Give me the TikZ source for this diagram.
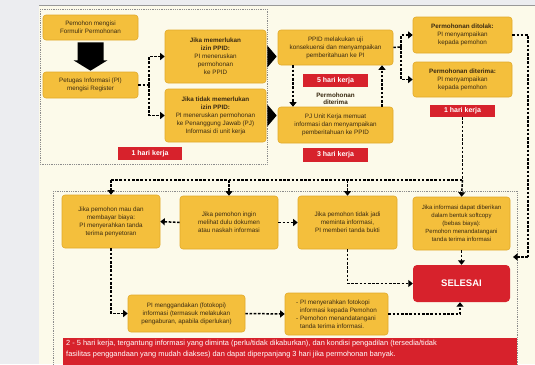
\documentclass[tikz,border=0pt]{standalone}
\usepackage{fontspec}
\setmainfont{Liberation Sans}
\usetikzlibrary{arrows.meta,positioning,calc}
\definecolor{ybox}{HTML}{F4BF3C}
\definecolor{yedge}{HTML}{E2A92A}
\definecolor{rbox}{HTML}{D7222C}
\definecolor{panel}{HTML}{FCFAEA}
\definecolor{outer}{HTML}{ECEDF0}
\definecolor{ink}{HTML}{3A2A12}
\tikzset{
  ybx/.style={draw=yedge,line width=0.6pt,fill=ybox,rounded corners=3pt,align=center,
    text=ink,font=\fontsize{6.3}{8}\selectfont,inner sep=1pt},
  rlab/.style={fill=rbox,text=white,font=\fontsize{7}{8}\selectfont\bfseries,inner sep=0pt},
  frm/.style={draw=black!45,line width=0.9pt,dash pattern=on 0.9pt off 0.9pt},
  con/.style={line width=1.5pt,dash pattern=on 2.6pt off 1.6pt,
    -{Triangle[width=7pt,length=4.5pt]}},
  conn/.style={line width=1.5pt,dash pattern=on 2.6pt off 1.6pt},
  blk/.style={fill=black}
}
\begin{document}
\begin{tikzpicture}[x=1pt,y=-1pt]
\useasboundingbox (0,0) rectangle (535,364);
\fill[outer] (0,0) rectangle (535,364);
\fill[panel] (39,5) rectangle (535,364);
\draw[black!40,line width=0.8pt] (39,5) -- (535,5);
% frames
\draw[frm] (40,9) rectangle (267,164);
\draw[frm] (53,191) -- (517,191) -- (517,366);
\draw[frm] (53,191) -- (53,366);
% top nodes
\node[ybx,minimum width=95pt,minimum height=25pt] (A) at (90.5,27.5) {Pemohon mengisi\\Formulir Permohonan};
\node[ybx,minimum width=95pt,minimum height=26pt] (B) at (90.5,85) {Petugas Informasi (PI)\\mengisi Register};
\node[ybx,minimum width=101pt,minimum height=53pt] (C) at (215.5,56.5) {\textbf{Jika memerlukan}\\\textbf{izin PPID:}\\PI meneruskan\\permohonan\\ke PPID};
\node[ybx,minimum width=101pt,minimum height=53pt] (D) at (215.5,115.5) {\textbf{Jika tidak memerlukan}\\\textbf{izin PPID:}\\PI meneruskan permohonan\\ke Penanggung Jawab (PJ)\\Informasi di unit kerja};
\node[ybx,minimum width=115pt,minimum height=35pt] (E) at (335.5,47.5) {PPID melakukan uji\\konsekuensi dan menyampaikan\\pemberitahuan ke PI};
\node[ybx,minimum width=115pt,minimum height=36pt] (F) at (335.5,125) {PJ Unit Kerja memuat\\informasi dan menyampaikan\\pemberitahuan ke PPID};
\node[ybx,minimum width=99pt,minimum height=36pt] (G) at (462.5,35) {\textbf{Permohonan ditolak:}\\PI menyampaikan\\kepada pemohon};
\node[ybx,minimum width=99pt,minimum height=35pt] (H) at (462.5,79.5) {\textbf{Permohonan diterima:}\\PI menyampaikan\\kepada pemohon};
\node[rlab,minimum width=64pt,minimum height=13pt] (R1) at (150,153.5) {1 hari kerja};
\node[rlab,minimum width=65pt,minimum height=13pt] (R5) at (335.5,80.5) {5 hari kerja};
\node[rlab,minimum width=65pt,minimum height=14pt] (R3) at (335.5,155) {3 hari kerja};
\node[rlab,minimum width=65pt,minimum height=12pt] (RG) at (462.5,111) {1 hari kerja};
\node[font=\fontsize{6.3}{7}\selectfont\bfseries,text=ink,align=center,inner sep=0pt] (PD) at (335.5,98.5) {Permohonan\\diterima};
% lower nodes
\node[ybx,minimum width=98pt,minimum height=53pt] (I) at (111,221.5) {Jika pemohon mau dan\\membayar biaya:\\PI menyerahkan tanda\\terima penyetoran};
\node[ybx,minimum width=98pt,minimum height=53pt] (J) at (229,222.5) {Jika pemohon ingin\\melihat dulu dokumen\\atau naskah informasi};
\node[ybx,minimum width=99pt,minimum height=53pt] (K) at (347.5,222.5) {Jika pemohon tidak jadi\\meminta informasi,\\PI memberi tanda bukti};
\node[ybx,minimum width=97pt,minimum height=53pt,font=\fontsize{6}{8}\selectfont] (L) at (461.5,223.5) {Jika informasi dapat diberikan\\dalam bentuk softcopy\\(bebas biaya):\\Pemohon menandatangani\\tanda terima informasi};
\node[fill=rbox,rounded corners=4pt,text=white,font=\fontsize{9.5}{10}\selectfont\bfseries,minimum width=97pt,minimum height=37pt] (S) at (461.5,283.5) {SELESAI};
\node[ybx,minimum width=117pt,minimum height=37pt] (M) at (186.5,313.5) {PI menggandakan (fotokopi)\\informasi (termasuk melakukan\\pengaburan, apabila diperlukan)};
\node[ybx,minimum width=103pt,minimum height=42pt,align=left] (N) at (336.5,314) {- PI menyerahkan fotokopi\\\phantom{- }informasi kepada Pemohon\\- Pemohon menandatangani\\\phantom{- }tanda terima informasi.};
\node[fill=rbox,minimum width=454pt,minimum height=32pt,inner sep=0pt] (NT) at (290,354) {};
\node[anchor=north west,text=white,font=\fontsize{7.4}{10.5}\selectfont,align=left,inner sep=0pt] (NTX) at (66,340) {2 - 5 hari kerja, tergantung informasi yang diminta (perlu/tidak dikaburkan), dan kondisi pengadilan (tersedia/tidak\\fasilitas penggandaan yang mudah diakses) dan dapat diperpanjang 3 hari jika permohonan banyak.};
% big black arrow A -> B
\fill[blk] ($(A.south)+(-13,2)$) -- ($(A.south)+(13,2)$) -- ($(A.south)+(13,20)$) -- ($(A.south)+(17,20)$) -- ($(B.north)+(0,-1)$) -- ($(A.south)+(-17,20)$) -- ($(A.south)+(-13,20)$) -- cycle;
% black triangles C->E, D->F
\fill[blk] ($(C.east)+(1,-11)$) -- ($(C.east)+(1,11)$) -- ($(E.west |- C.east)+(-1,0)$) -- cycle;
\fill[blk] ($(D.east)+(1,-11)$) -- ($(D.east)+(1,11)$) -- ($(F.west |- D.east)+(-1,0)$) -- cycle;
% B -> C, D
\coordinate (b1) at (149,85);
\draw[conn] (B.east) -- (b1);
\draw[con] (b1) |- (C.west);
\draw[con] (b1) |- (D.west);
% E <-> F
\draw[con] (E.south -| 293,0) -- (F.north -| 293,0);
\draw[con] (F.north -| 382,0) -- (E.south -| 382,0);
% E -> G, H
\coordinate (e1) at (401,47);
\draw[conn] (E.east) -- (e1);
\draw[con] (e1) |- (G.west);
\draw[con] (e1) |- (H.west);
% RG -> lower row
\coordinate (h1) at (462.5,180);
\coordinate (h0) at (111,180);
\draw[conn] (RG.south) -- (h1);
\draw[conn] (h0) -- (h1);
\draw[con] (h0) -- (I.north);
\draw[con] (229,180) -- (J.north);
\draw[con] (347.5,180) -- (K.north);
\draw[con] (h1) -- (L.north);
% G -> SELESAI
\coordinate (g1) at (528,35);
\coordinate (g2) at (528,257);
\draw[conn] (G.east) -- (g1) -- (g2);
\draw[con] (g2) -- (513,257);
% lower connectors
\draw[con] (J.west) -- (I.east);
\draw[con] (J.east) -- (K.west);
\draw[con] (L.south) -- (S.north);
\draw[con] (K.south) |- (S.west);
\draw[con] (I.south) |- (M.west);
\draw[con] (M.east) -- (N.west);
\draw[con] (N.east) -| (460,0 |- S.south);
\end{tikzpicture}
\end{document}
